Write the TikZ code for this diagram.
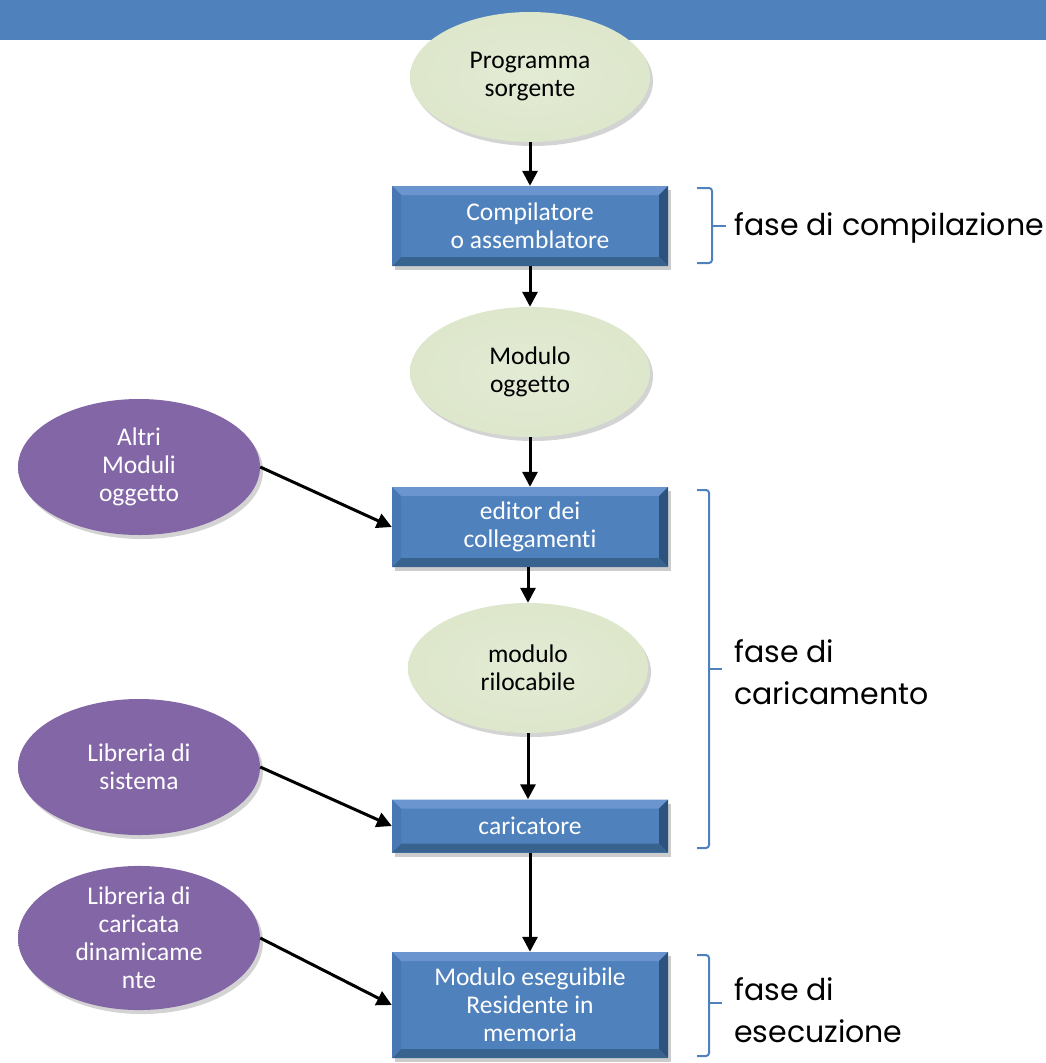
\documentclass[tikz,border=0pt]{standalone}
\usepackage{fontspec}
\setmainfont{Carlito}[Ligatures=NoCommon]
\newfontfamily\phasefont{Poppins}
\usetikzlibrary{arrows.meta,shapes.geometric,shadows,calc}
\definecolor{barblue}{HTML}{4F81BD}
\definecolor{boxblue}{HTML}{4F81BD}
\definecolor{bvtop}{HTML}{6A95CE}
\definecolor{bvleft}{HTML}{4878B4}
\definecolor{bvright}{HTML}{2D527E}
\definecolor{bvbottom}{HTML}{38638F}
\definecolor{gC}{HTML}{E3EBD5}
\definecolor{gM}{HTML}{DCE6C9}
\definecolor{gE}{HTML}{BFCDA5}
\definecolor{pD}{HTML}{7A5E9C}
\definecolor{pM}{HTML}{8366A6}
\definecolor{pL}{HTML}{A88ECB}
\pgfdeclareradialshading{greenball}{\pgfpoint{0bp}{0bp}}{color(0bp)=(gC); color(30bp)=(gM); color(44bp)=(gM); color(50bp)=(gE)}
\pgfdeclareverticalshading{purpleball}{100bp}{color(0bp)=(pD); color(30bp)=(pM); color(80bp)=(pM); color(100bp)=(pL)}
\tikzset{
  nodefont/.style={font=\fontsize{25.5}{28}\selectfont},
  greenell/.style={ellipse, shading=greenball, minimum width=240, minimum height=130, inner sep=0pt, align=center, nodefont, text=black,
    drop shadow={shadow xshift=3pt, shadow yshift=-4pt, opacity=0.35}},
  purpleell/.style={ellipse, shading=purpleball, minimum width=242, minimum height=136, inner sep=0pt, align=center, nodefont, text=white,
    drop shadow={shadow xshift=3pt, shadow yshift=-4pt, opacity=0.35}},
  bluebox/.style={rectangle, fill=boxblue, minimum width=276, inner sep=0pt, align=center, nodefont, text=white,
    drop shadow={shadow xshift=3pt, shadow yshift=-4pt, opacity=0.4},
    path picture={
      \fill[bvtop] (path picture bounding box.north west) -- (path picture bounding box.north east) -- ($(path picture bounding box.north east)+(-9,9)$) -- ($(path picture bounding box.north west)+(9,9)$) -- cycle;
      \fill[bvright] (path picture bounding box.north east) -- (path picture bounding box.south east) -- ($(path picture bounding box.south east)+(-9,-9)$) -- ($(path picture bounding box.north east)+(-9,9)$) -- cycle;
      \fill[bvbottom] (path picture bounding box.south east) -- (path picture bounding box.south west) -- ($(path picture bounding box.south west)+(9,-9)$) -- ($(path picture bounding box.south east)+(-9,-9)$) -- cycle;
      \fill[bvleft] (path picture bounding box.south west) -- (path picture bounding box.north west) -- ($(path picture bounding box.north west)+(9,9)$) -- ($(path picture bounding box.south west)+(9,-9)$) -- cycle;
    }},
  arr/.style={-{Triangle[length=15pt,width=15pt]}, line width=3pt, black},
  bracepath/.style={draw=barblue, line width=2pt, rounded corners=3pt},
  phase/.style={font=\phasefont\fontsize{30}{42}\selectfont, align=left, anchor=west, inner sep=0pt, text=black}
}
\begin{document}
\begin{tikzpicture}[x=1pt, y=-1pt]
\useasboundingbox (0,0) rectangle (1046,1063);
\fill[barblue] (0,0) rectangle (1046,40);

\node[greenell] (prog) at (530,77) {Programma\\sorgente};
\node[bluebox, minimum height=80] (comp) at (530,226) {Compilatore\\o assemblatore};
\node[greenell] (mod) at (530,372) {Modulo\\oggetto};
\node[bluebox, minimum height=80] (edit) at (530,527) {editor dei\\collegamenti};
\node[greenell] (riloc) at (528,668) {modulo\\rilocabile};
\node[bluebox, minimum height=53] (caric) at (530,826) {caricatore};
\node[bluebox, minimum height=106] (exec) at (530,1005) {Modulo eseguibile\\Residente in\\memoria};

\node[purpleell] (altri) at (139,467) {Altri\\Moduli\\oggetto};
\node[purpleell] (libsys) at (139,767) {Libreria di\\sistema};
\node[purpleell] (libdyn) at (139,938) {Libreria di\\caricata\\dinamicame\\nte};

\draw[arr] (prog) -- (comp);
\draw[arr] (comp) -- (mod);
\draw[arr] (mod) -- (edit);
\draw[arr] (edit.south -| riloc.north) -- (riloc);
\draw[arr] (riloc) -- (caric.north -| riloc.south);
\draw[arr] (caric) -- (exec);
\draw[arr] (altri.east) -- (edit.west);
\draw[arr] (libsys.east) -- (caric.west);
\draw[arr] (libdyn.east) -- (exec.west);

% braces
\path[bracepath] (697,188) -- (712,188) -- (712,226);
\path[bracepath] (712,226) -- (712,263) -- (697,263);
\draw[barblue, line width=2pt] (712,226) -- (726,226);
\path[bracepath] (697,490) -- (709,490) -- (709,669);
\path[bracepath] (709,669) -- (709,848) -- (697,848);
\draw[barblue, line width=2pt] (709,669) -- (722,669);
\path[bracepath] (697,955) -- (709,955) -- (709,1003);
\path[bracepath] (709,1003) -- (709,1056) -- (697,1056);
\draw[barblue, line width=2pt] (709,1003) -- (722,1003);

\node[phase] (ph1) at (734,228) {fase di compilazione};
\node[phase] (ph2) at (734,672) {fase di\\caricamento};
\node[phase] (ph3) at (734,1010) {fase di\\esecuzione};
\end{tikzpicture}
\end{document}
